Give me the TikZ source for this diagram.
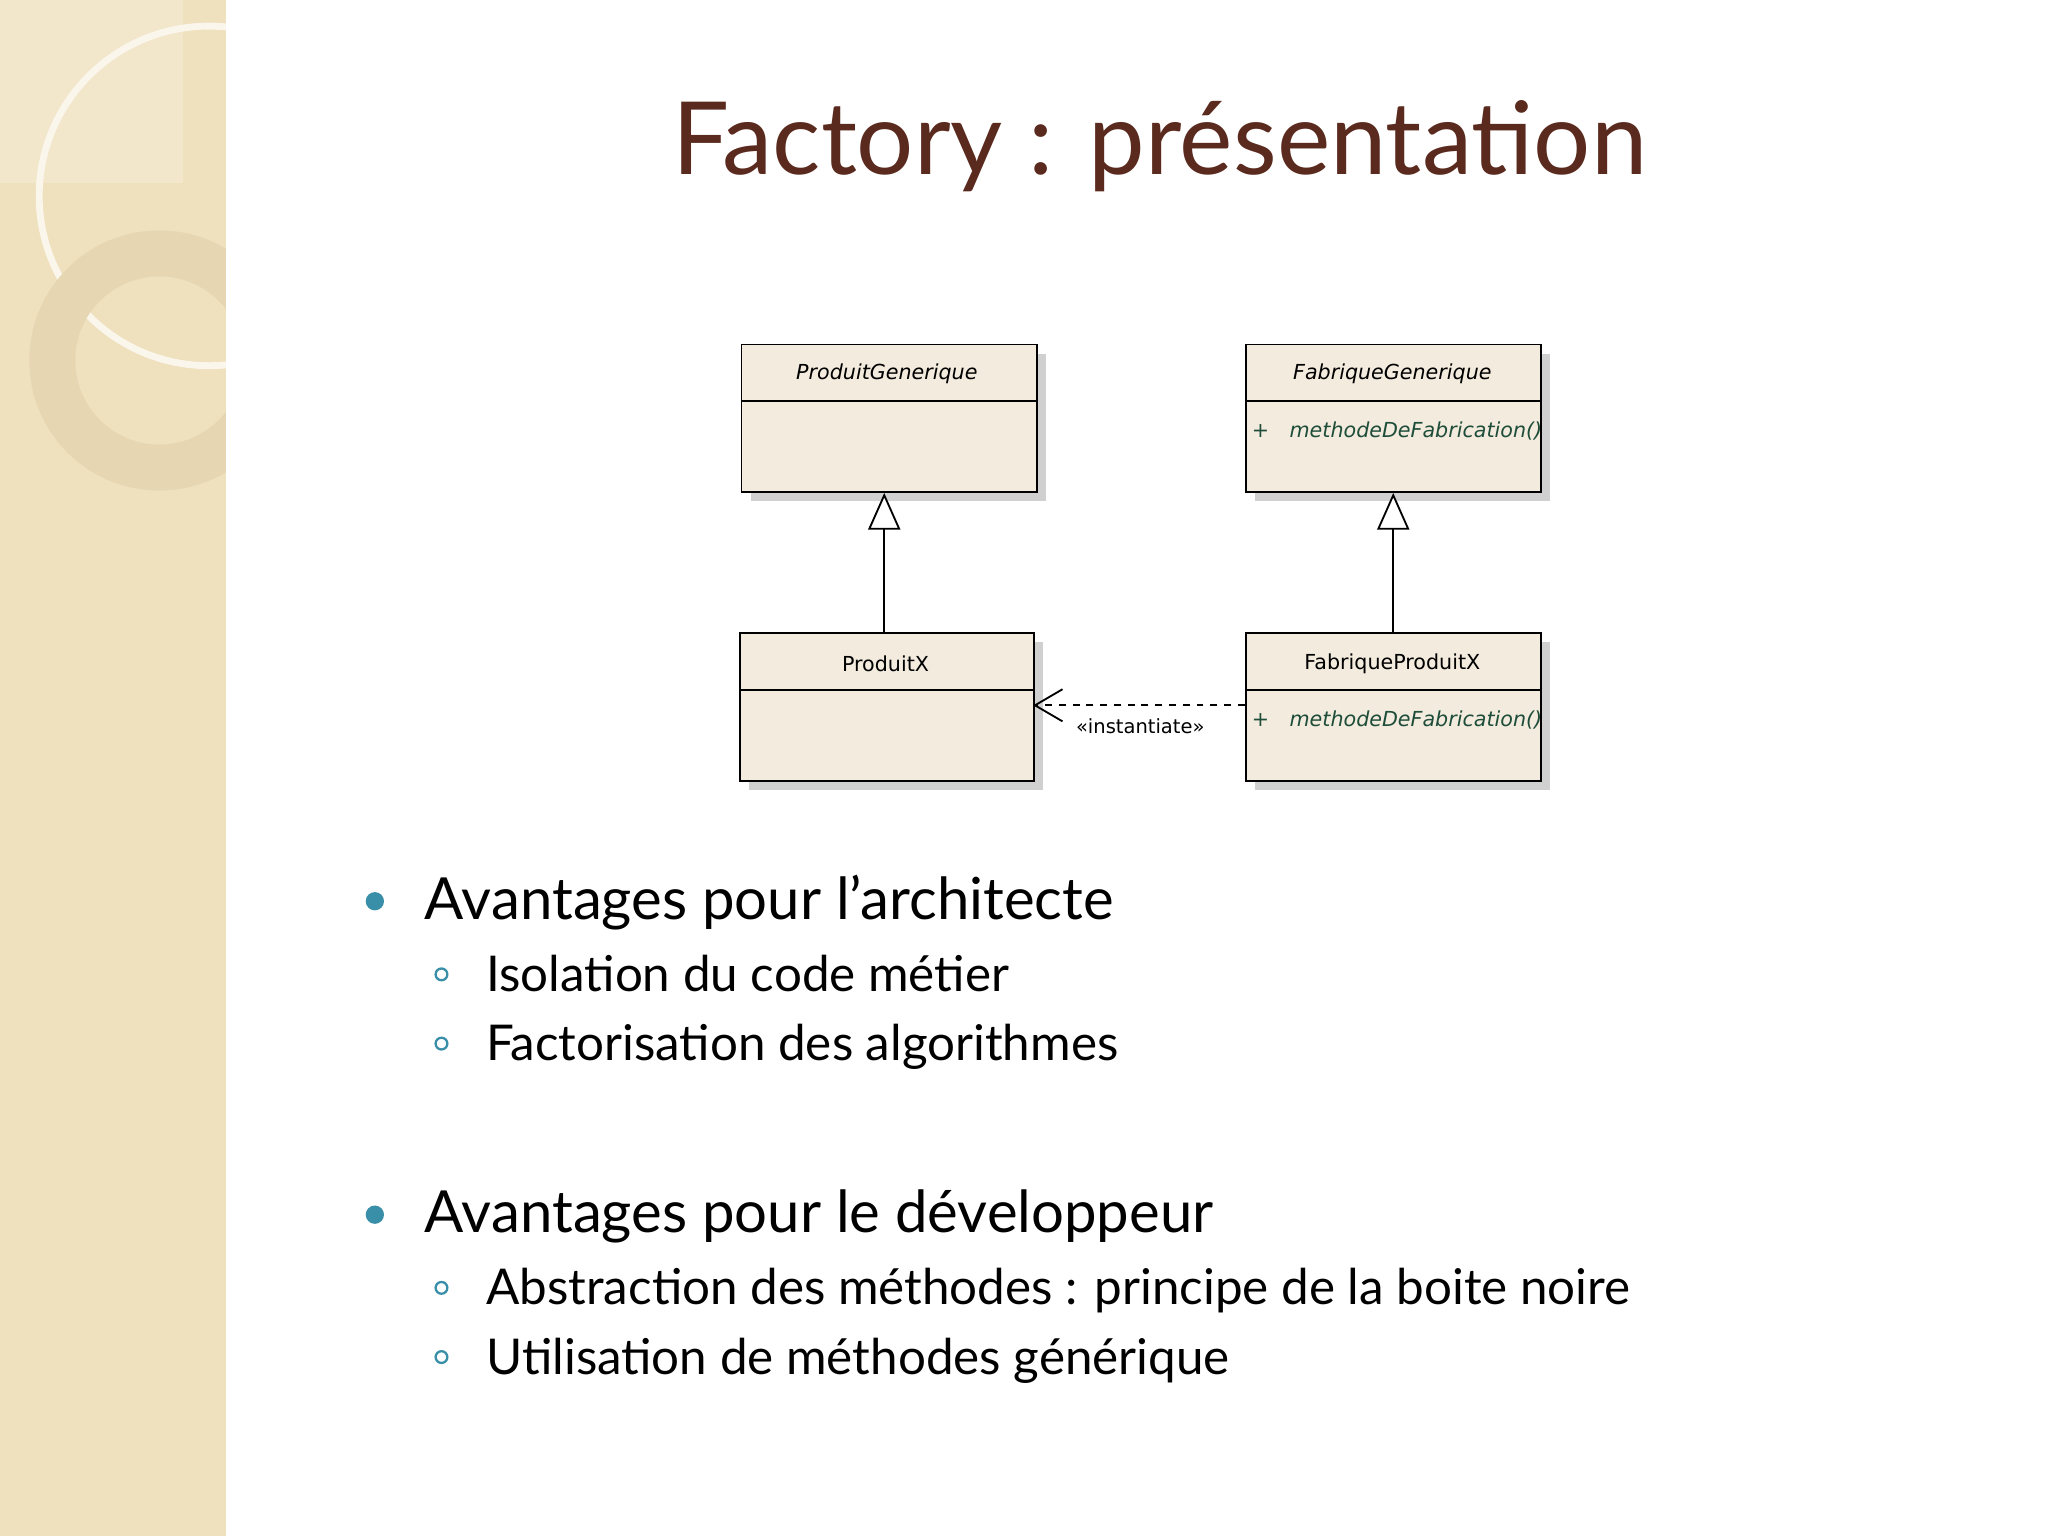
\documentclass[tikz,border=0pt]{standalone}
\usepackage{fontspec}
\setmainfont{Lato}
\newfontfamily\umlfont{DejaVu Sans}
\usetikzlibrary{arrows.meta,shadows}
\definecolor{band}{HTML}{EFE0BE}
\definecolor{ring}{HTML}{E6D6B2}
\definecolor{titlec}{HTML}{5A2A1E}
\definecolor{teal}{HTML}{3A8FA8}
\definecolor{boxf}{HTML}{F3EBDD}
\definecolor{meth}{HTML}{1E4D3A}
\tikzset{
  uml/.style={draw=black,line width=0.8pt,fill=boxf,drop shadow={shadow xshift=4pt,shadow yshift=-4pt,fill=black!30,opacity=0.6}},
  umlt/.style={font=\umlfont\fontsize{9}{11}\selectfont},
  umli/.style={font=\umlfont\itshape\fontsize{9}{11}\selectfont},
  inh/.style={-{Triangle[open,length=16pt,width=14pt,fill=white]},line width=0.8pt},
  dep/.style={-{Straight Barb[length=12pt,width=14pt]},dashed,line width=0.8pt},
  big/.style={anchor=base west,inner sep=0pt,font=\fontsize{25.3}{30}\selectfont},
  small/.style={anchor=base west,inner sep=0pt,font=\fontsize{21.5}{26}\selectfont},
}
\begin{document}
\begin{tikzpicture}[x=0.02cm,y=-0.02cm]
\useasboundingbox (0,0) rectangle (1568,1176);
\fill[white] (0,0) rectangle (1568,1176);
\fill[band] (0,0) rectangle (173,1176);
\fill[band!80!white] (0,0) rectangle (140,140);
\begin{scope}
\clip (0,0) rectangle (173,1176);
\draw[white!70!band,line width=3pt] (160,150) circle (130);
\draw[ring,line width=20pt] (122,276) circle (82);
\end{scope}
\node[text=titlec,font=\fontsize{44}{52}\selectfont] (title) at (888,112) {Factory : présentation};
% UML
\node[uml,minimum width=226*0.02cm,minimum height=113*0.02cm,anchor=north west] (pg) at (567,263) {};
\node[uml,minimum width=226*0.02cm,minimum height=113*0.02cm,anchor=north west] (fg) at (953,263) {};
\node[uml,minimum width=225*0.02cm,minimum height=113*0.02cm,anchor=north west] (px) at (566,484) {};
\node[uml,minimum width=226*0.02cm,minimum height=113*0.02cm,anchor=north west] (fx) at (953,484) {};
\draw[line width=0.8pt] (567,307) -- (793,307) (953,307) -- (1179,307) (566,528) -- (791,528) (953,528) -- (1179,528);
\node[umli] (pgt) at (679,286) {ProduitGenerique};
\node[umli] (fgt) at (1066,286) {FabriqueGenerique};
\node[umlt] (pxt) at (678,508) {ProduitX};
\node[umlt] (fxt) at (1066,508) {FabriqueProduitX};
\node[umlt,text=meth] (p1) at (965,330) {+};
\node[umli,text=meth,anchor=west,inner sep=0pt] (m1) at (987,330) {methodeDeFabrication()};
\node[umlt,text=meth] (p2) at (965,551) {+};
\node[umli,text=meth,anchor=west,inner sep=0pt] (m2) at (987,551) {methodeDeFabrication()};
\draw[inh] (px.north -| 677,0) -- (pg.south -| 677,0);
\draw[inh] (fx.north) -- (fg.south);
\coordinate (d1) at (953,540); \coordinate (d2) at (791,540);
\draw[dep] (d1) -- (d2);
\node[umlt,font=\umlfont\fontsize{8.5}{10}\selectfont] (lab) at (873,556) {«instantiate»};
% bullets
\fill[teal] (287,690) circle (7);
\fill[teal] (287,930) circle (7);
\node[big] (b1) at (325,704) {Avantages pour l’architecte};
\node[big] (b2) at (325,944) {Avantages pour le développeur};
\foreach \y/\t in {759/Isolation du code métier,812/Factorisation des algorithmes,999/Abstraction des méthodes : principe de la boite noire,1052/Utilisation de méthodes générique}{
  \draw[teal,line width=1pt] (338,\y-13) circle (4.5);
  \node[small] at (372,\y) {\t};
}
\end{tikzpicture}
\end{document}
